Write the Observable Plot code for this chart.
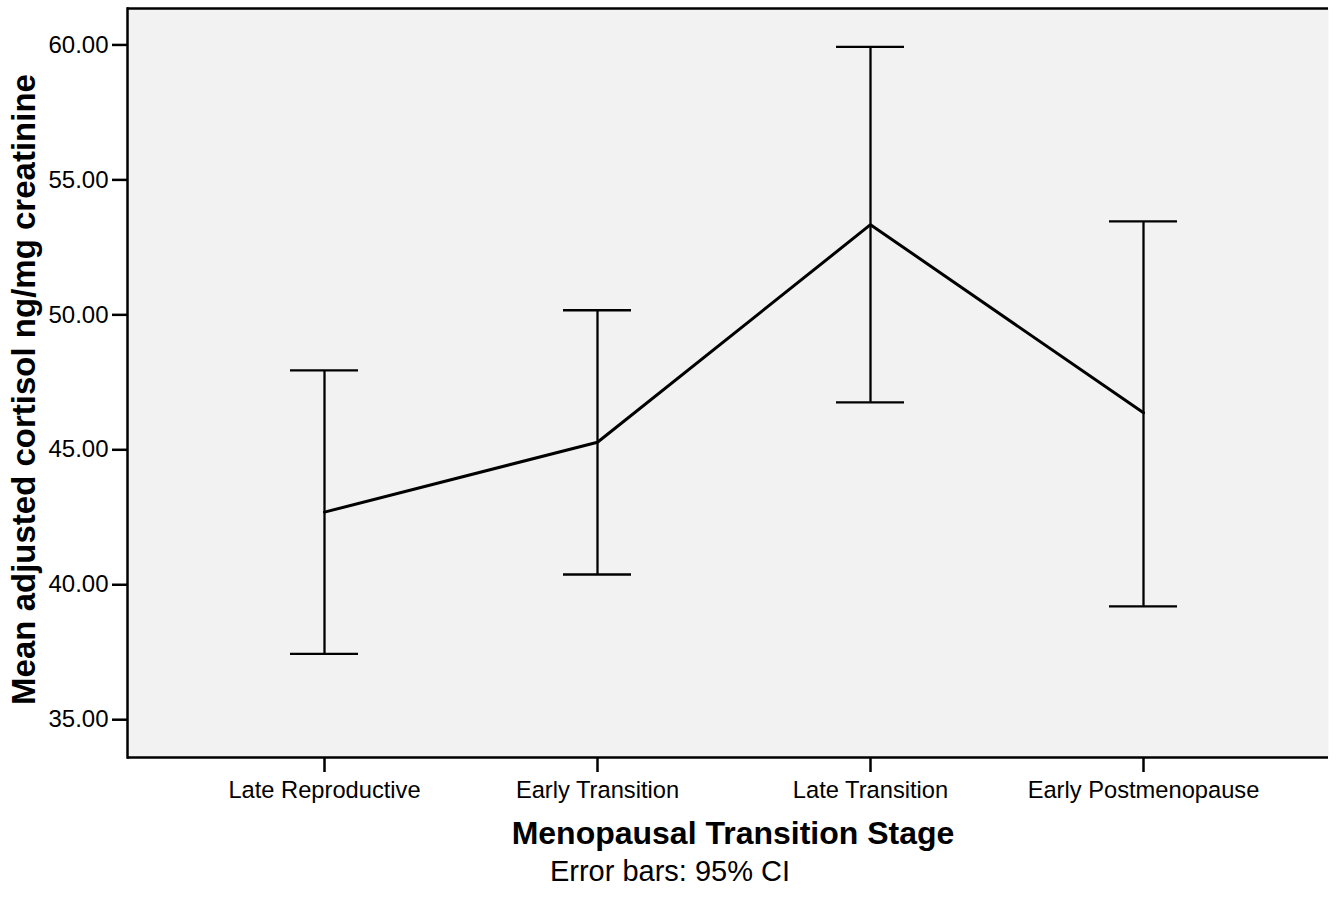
<!DOCTYPE html>
<html>
<head>
<meta charset="utf-8">
<script src="https://cdn.jsdelivr.net/npm/d3@7"></script>
<script src="https://cdn.jsdelivr.net/npm/@observablehq/plot@0.6"></script>
<style>
  html, body { margin: 0; padding: 0; background: white; }
</style>
</head>
<body>
<div id="chart"></div>
<script>
const stages = ["Late Reproductive", "Early Transition", "Late Transition", "Early Postmenopause"];
const means = [42.69, 45.28, 53.34, 46.37];
const lower = [37.44, 40.38, 46.76, 39.20];
const upper = [47.94, 50.17, 59.93, 53.46];
const yTicks = [35, 40, 45, 50, 55, 60];
const xTitle = "Menopausal Transition Stage";
const yTitle = "Mean adjusted cortisol ng/mg creatinine";
const caption = "Error bars: 95% CI";

const data = stages.map((s, i) => ({stage: s, mean: means[i], lo: lower[i], hi: upper[i]}));
const yDomain = [33.6, 61.35];

const chart = Plot.plot({
  width: 1337,
  height: 897,
  marginLeft: 127,
  marginTop: 8,
  marginRight: 9,
  marginBottom: 140,
  style: {fontFamily: "'Liberation Sans', Arial, sans-serif", background: "white", color: "black", overflow: "visible"},
  x: {type: "band", domain: stages, range: [127, 1339.6], paddingInner: 0.751, paddingOuter: 0.594, align: 0.5, label: null},
  y: {domain: yDomain, label: null},
  marks: [
    Plot.frame({fill: "#f2f2f2", stroke: null}),
    Plot.ruleX(data, {x: "stage", y1: "lo", y2: "hi", stroke: "black", strokeWidth: 2.3}),
    Plot.tickY(data, {x: "stage", y: "hi", stroke: "black", strokeWidth: 2.3}),
    Plot.tickY(data, {x: "stage", y: "lo", stroke: "black", strokeWidth: 2.3}),
    Plot.line(data, {x: "stage", y: "mean", stroke: "black", strokeWidth: 3}),
    Plot.frame({anchor: "left", stroke: "black", strokeWidth: 2.5}),
    Plot.ruleY([yDomain[0], yDomain[1]], {stroke: "black", strokeWidth: 2.5}),
    Plot.axisY({ticks: yTicks, tickFormat: d3.format(".2f"), tickSize: 15, tickPadding: 4, fontSize: 24, strokeWidth: 2.5, label: null}),
    Plot.axisX({tickSize: 15, tickPadding: 9, fontSize: 23.7, strokeWidth: 2.5, label: null}),
    Plot.text([yTitle], {frameAnchor: "left", rotate: -90, textAnchor: "middle", lineAnchor: "middle", dx: -103, dy: 6.5, fontSize: 33, fontWeight: "bold", fill: "black"}),
    Plot.text([xTitle], {frameAnchor: "bottom", textAnchor: "middle", lineAnchor: "middle", dx: 5, dy: 76, fontSize: 32, fontWeight: "bold", fill: "black"}),
    Plot.text([caption], {frameAnchor: "bottom", textAnchor: "middle", lineAnchor: "middle", dx: -58, dy: 114, fontSize: 29, fill: "black"})
  ]
});
document.getElementById("chart").appendChild(chart);
</script>
</body>
</html>
